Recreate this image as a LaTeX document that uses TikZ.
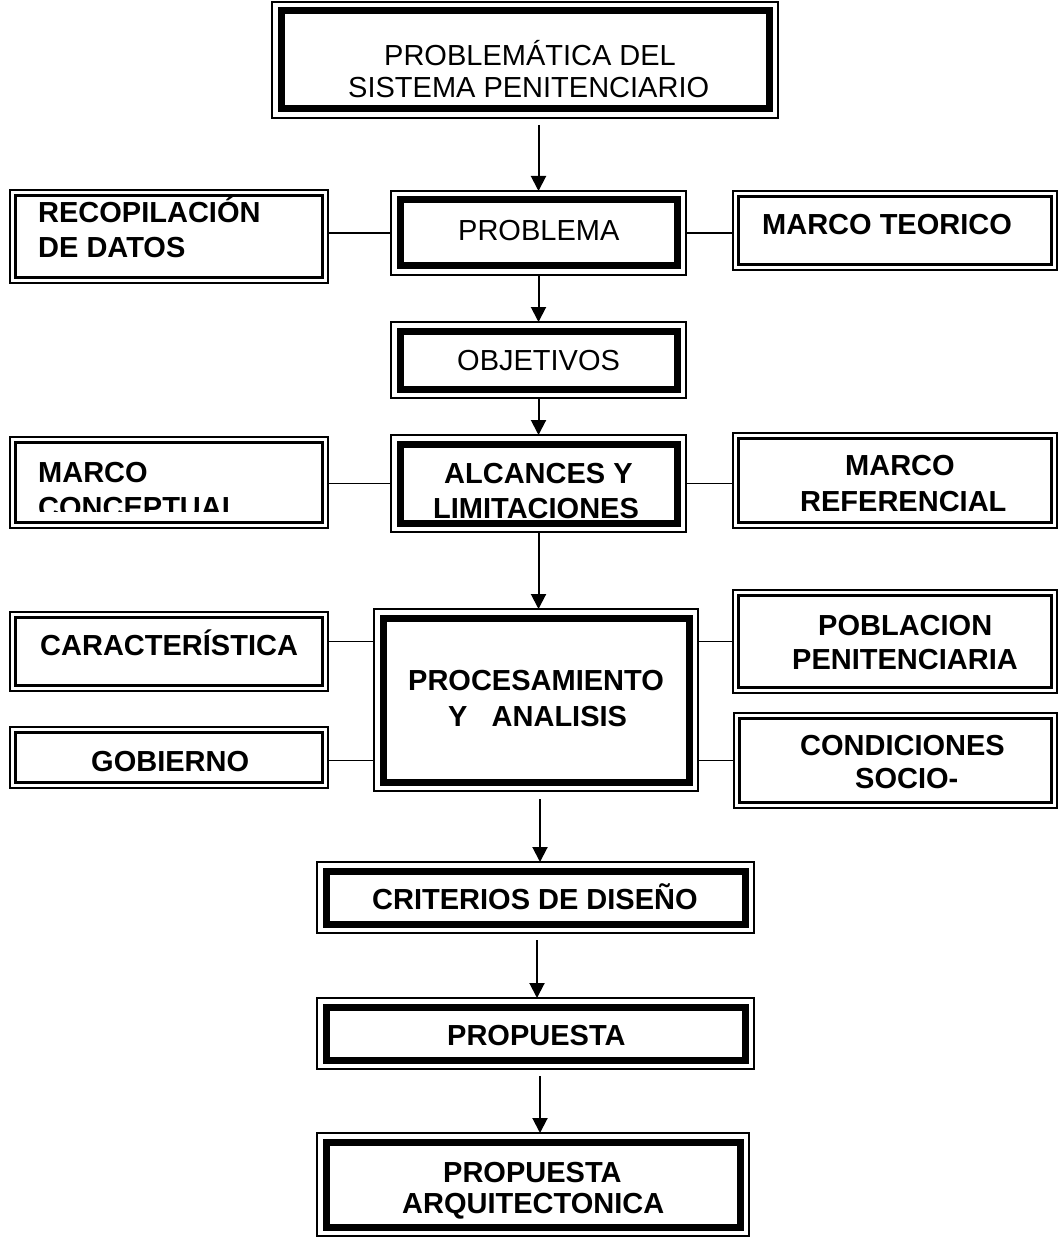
\documentclass[tikz,border=0pt]{standalone}
\usepackage{fontspec}
\setmainfont{Liberation Sans}
\usetikzlibrary{arrows.meta,calc}
\tikzset{
  mainbox/.style={draw, line width=1.2pt, inner sep=0pt, outer sep=0pt,
    path picture={\draw[line width=7pt] ([shift={(9pt,-9pt)}]path picture bounding box.north west) rectangle ([shift={(-9pt,9pt)}]path picture bounding box.south east);}},
  sidebox/.style={draw, line width=1.3pt, inner sep=0pt, outer sep=0pt,
    path picture={\draw[line width=2.6pt] ([shift={(5.5pt,-5.5pt)}]path picture bounding box.north west) rectangle ([shift={(-5.5pt,5.5pt)}]path picture bounding box.south east);}},
  txt/.style={anchor=base west, inner sep=0pt, font=\fontsize{29}{34}\selectfont},
  btxt/.style={txt, font=\fontsize{29}{34}\selectfont\bfseries},
  arr/.style={line width=2pt, -{Triangle[width=15pt,length=15pt]}},
  link/.style={line width=1.5pt}
}
\begin{document}
\begin{tikzpicture}[x=1pt,y=-1pt]
\useasboundingbox[fill=white] (0,0) rectangle (1059,1238);
% main boxes
\node[mainbox, minimum width=506pt, minimum height=116pt] (top) at (525,60) {};
\node[mainbox, minimum width=295pt, minimum height=84pt] (prob) at (538.5,233) {};
\node[mainbox, minimum width=295pt, minimum height=76pt] (obj) at (538.5,360) {};
\node[mainbox, minimum width=295pt, minimum height=97pt] (alc) at (538.5,483.5) {};
\node[mainbox, minimum width=324pt, minimum height=182pt] (proc) at (536,700) {};
\node[mainbox, minimum width=437pt, minimum height=71pt] (crit) at (535.5,897.5) {};
\node[mainbox, minimum width=437pt, minimum height=71pt] (prop) at (535.5,1033.5) {};
\node[mainbox, minimum width=432pt, minimum height=103pt] (arq) at (533,1184.5) {};
% side boxes
\node[sidebox, minimum width=318pt, minimum height=93pt] (rec) at (169,236.5) {};
\node[sidebox, minimum width=324pt, minimum height=79pt] (mt) at (895,230.5) {};
\node[sidebox, minimum width=318pt, minimum height=91pt] (mc) at (169,482.5) {};
\node[sidebox, minimum width=324pt, minimum height=95pt] (mr) at (895,480.5) {};
\node[sidebox, minimum width=318pt, minimum height=79pt] (car) at (169,651.5) {};
\node[sidebox, minimum width=318pt, minimum height=61pt] (gob) at (169,757.5) {};
\node[sidebox, minimum width=324pt, minimum height=103pt] (pob) at (895,641.5) {};
\node[sidebox, minimum width=323pt, minimum height=95pt] (cond) at (895.5,760.5) {};
% texts
\node[txt] (t1a) at (384,66) {PROBLEMÁTICA DEL};
\node[txt] (t1b) at (348,98) {SISTEMA PENITENCIARIO};
\node[txt] (t2) at (458,241) {PROBLEMA};
\node[txt] (t3) at (457,370) {OBJETIVOS};
\node[btxt] (t4a) at (444,483) {ALCANCES Y};
\node[btxt] (t4b) at (433,518) {LIMITACIONES};
\node[btxt] (t5a) at (408,690) {PROCESAMIENTO};
\node[btxt] (t5b) at (448,726) {Y\ \ \ ANALISIS};
\node[btxt] (t6) at (372,909) {CRITERIOS DE DISEÑO};
\node[btxt] (t7) at (447,1045) {PROPUESTA};
\node[btxt] (t8a) at (443,1182) {PROPUESTA};
\node[btxt] (t8b) at (402,1213) {ARQUITECTONICA};
\node[btxt] (s1a) at (38,223) {RECOPILACIÓN};
\node[btxt] (s1b) at (38,258) {DE DATOS};
\node[btxt] (s2) at (762,235) {MARCO TEORICO};
\node[btxt] (s3a) at (38,482) {MARCO};
\begin{scope}
\clip (12,440) rectangle (326,511);
\node[btxt] (s3b) at (38,517) {CONCEPTUAL};
\end{scope}
\node[btxt] (s4a) at (845,475) {MARCO};
\node[btxt] (s4b) at (800,511) {REFERENCIAL};
\node[btxt] (s5) at (40,655) {CARACTERÍSTICA};
\node[btxt] (s6) at (91,771) {GOBIERNO};
\node[btxt] (s7a) at (818,635) {POBLACION};
\node[btxt] (s7b) at (792,669) {PENITENCIARIA};
\node[btxt] (s8a) at (800,755) {CONDICIONES};
\node[btxt] (s8b) at (855,788) {SOCIO-};
% arrows
\draw[arr] ([yshift=-7pt]top.south -| prob.north) -- (prob.north);
\draw[arr] (prob.south) -- (obj.north);
\draw[arr] (obj.south) -- (alc.north);
\draw[arr] (alc.south) -- (alc.south |- proc.north);
\draw[arr] ([xshift=4pt,yshift=-8pt]proc.south) -- ([xshift=4pt]proc.south |- crit.north);
\draw[arr] ([xshift=1.5pt,yshift=-7pt]crit.south) -- ([xshift=1.5pt]crit.south |- prop.north);
\draw[arr] ([xshift=4.5pt,yshift=-7pt]prop.south) -- ([xshift=4.5pt]prop.south |- arq.north);
% links
\draw[link] (rec.east |- prob.west) -- (prob.west);
\draw[link] (prob.east) -- (prob.east -| mt.west);
\draw[link] (mc.east |- alc.west) -- (alc.west);
\draw[link] (alc.east) -- (alc.east -| mr.west);
\draw[link] (car.east |- pob.west) -- (proc.west |- pob.west);
\draw[link] (proc.east |- pob.west) -- (pob.west);
\draw[link] (gob.east |- cond.west) -- (proc.west |- cond.west);
\draw[link] (proc.east |- cond.west) -- (cond.west);
\end{tikzpicture}
\end{document}
